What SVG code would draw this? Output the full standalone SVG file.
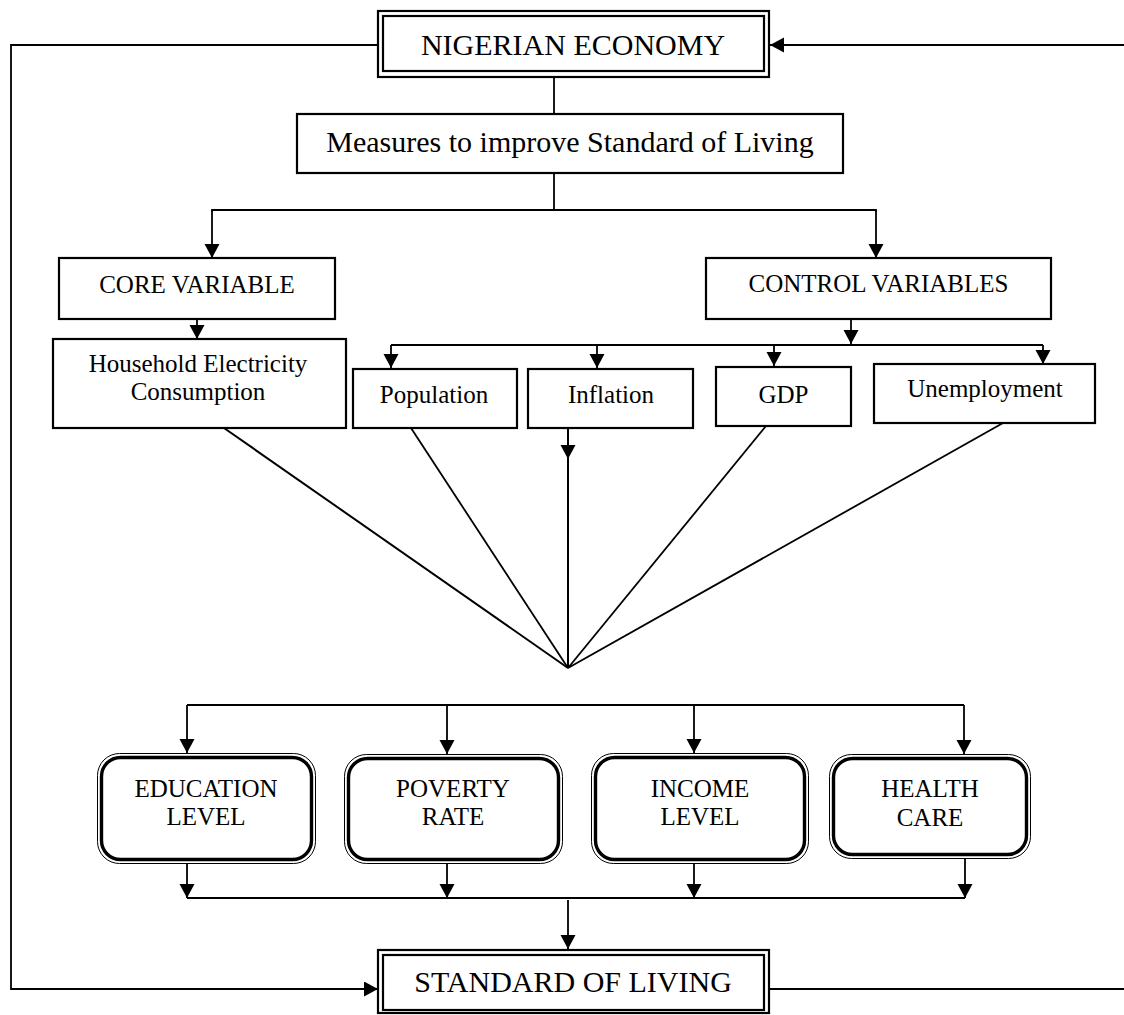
<svg xmlns="http://www.w3.org/2000/svg" width="1124" height="1015" viewBox="0 0 1124 1015">
<style>
.box{fill:#fff;stroke:#000;stroke-width:2.2}
.thin{fill:none;stroke:#000;stroke-width:1}
.thick{fill:#fff;stroke:#000;stroke-width:3.4}
.ln{fill:none;stroke:#000;stroke-width:1.8}
.fan{fill:none;stroke:#000;stroke-width:2}
.big{font-family:"Liberation Serif","Times New Roman",serif;font-size:30px;fill:#000;text-anchor:middle}
.mid{font-family:"Liberation Serif","Times New Roman",serif;font-size:25px;fill:#000;text-anchor:middle}
</style>
<defs>
<marker id="ah" markerUnits="userSpaceOnUse" markerWidth="16" markerHeight="16" refX="14" refY="7.5" orient="auto">
<path d="M0,0 L14,7.5 L0,15 z" fill="#000"/>
</marker>
</defs>
<rect width="1124" height="1015" fill="#fff"/>
<g id="connectors">
<polyline class="ln" points="377,45 11,45 11,989 378,989" marker-end="url(#ah)"/>
<line class="ln" x1="1124" y1="45" x2="770" y2="45" marker-end="url(#ah)"/>
<line class="ln" x1="770" y1="989" x2="1124" y2="989"/>
<line class="ln" x1="554" y1="77" x2="554" y2="114"/>
<line class="ln" x1="554" y1="173" x2="554" y2="210"/>
<polyline class="ln" points="212,212 212,210 876,210 876,212"/>
<line class="ln" x1="212" y1="210" x2="212" y2="258" marker-end="url(#ah)"/>
<line class="ln" x1="876" y1="210" x2="876" y2="258" marker-end="url(#ah)"/>
<line class="ln" x1="197" y1="319" x2="197" y2="339" marker-end="url(#ah)"/>
<line class="ln" x1="851" y1="319" x2="851" y2="344" marker-end="url(#ah)"/>
<line class="ln" x1="391" y1="345" x2="1043" y2="345"/>
<line class="ln" x1="391" y1="345" x2="391" y2="368" marker-end="url(#ah)"/>
<line class="ln" x1="597" y1="345" x2="597" y2="368" marker-end="url(#ah)"/>
<line class="ln" x1="774" y1="345" x2="774" y2="366" marker-end="url(#ah)"/>
<line class="ln" x1="1043" y1="345" x2="1043" y2="364" marker-end="url(#ah)"/>
<line class="fan" x1="224" y1="428" x2="568" y2="668"/>
<line class="ln" x1="411" y1="428" x2="568" y2="668"/>
<line class="fan" x1="568" y1="428" x2="568" y2="459" marker-end="url(#ah)"/>
<line class="fan" x1="568" y1="458" x2="568" y2="668"/>
<line class="ln" x1="766" y1="426" x2="568" y2="668"/>
<line class="ln" x1="1003" y1="423" x2="568" y2="668"/>
<line class="ln" x1="187" y1="705" x2="964" y2="705"/>
<line class="ln" x1="187" y1="705" x2="187" y2="753" marker-end="url(#ah)"/>
<line class="ln" x1="447" y1="705" x2="447" y2="754" marker-end="url(#ah)"/>
<line class="ln" x1="694" y1="705" x2="694" y2="753" marker-end="url(#ah)"/>
<line class="ln" x1="964" y1="705" x2="964" y2="754" marker-end="url(#ah)"/>
<line class="ln" x1="187" y1="863" x2="187" y2="898" marker-end="url(#ah)"/>
<line class="ln" x1="447" y1="863" x2="447" y2="898" marker-end="url(#ah)"/>
<line class="ln" x1="694" y1="863" x2="694" y2="898" marker-end="url(#ah)"/>
<line class="ln" x1="965" y1="858" x2="965" y2="898" marker-end="url(#ah)"/>
<line class="ln" x1="187" y1="898" x2="965" y2="898"/>
<line class="ln" x1="568" y1="900" x2="568" y2="949" marker-end="url(#ah)"/>
</g>
<g id="nigerian-economy">
<rect class="box" x="378" y="11" width="391" height="66"/>
<rect class="box" x="383" y="16" width="381" height="55"/>
<text class="big" x="573" y="55">NIGERIAN ECONOMY</text>
</g>
<g id="measures">
<rect class="box" x="297" y="114" width="546" height="59"/>
<text class="big" x="570" y="152">Measures to improve Standard of Living</text>
</g>
<g id="core-variable">
<rect class="box" x="59" y="258" width="276" height="61"/>
<text class="mid" x="197" y="293">CORE VARIABLE</text>
</g>
<g id="control-variables">
<rect class="box" x="706" y="258" width="345" height="61"/>
<text class="mid" x="878.5" y="292">CONTROL VARIABLES</text>
</g>
<g id="household-electricity">
<rect class="box" x="53" y="339" width="293" height="89"/>
<text class="mid" x="198" y="372">Household Electricity</text>
<text class="mid" x="198" y="400">Consumption</text>
</g>
<g id="population">
<rect class="box" x="353" y="369" width="164" height="59"/>
<text class="mid" x="434" y="403">Population</text>
</g>
<g id="inflation">
<rect class="box" x="528" y="369" width="165" height="59"/>
<text class="mid" x="611" y="403">Inflation</text>
</g>
<g id="gdp">
<rect class="box" x="716" y="367" width="135" height="59"/>
<text class="mid" x="783.5" y="403">GDP</text>
</g>
<g id="unemployment">
<rect class="box" x="874" y="364" width="221" height="59"/>
<text class="mid" x="985" y="397">Unemployment</text>
</g>
<g id="education-level">
<rect class="thin" x="97.5" y="753.5" width="218" height="110" rx="22"/>
<rect class="thick" x="101.5" y="757.5" width="210" height="102" rx="19"/>
<text class="mid" x="206" y="797">EDUCATION</text>
<text class="mid" x="206" y="825">LEVEL</text>
</g>
<g id="poverty-rate">
<rect class="thin" x="344.5" y="754.5" width="218" height="109" rx="22"/>
<rect class="thick" x="348.5" y="758.5" width="210" height="101" rx="19"/>
<text class="mid" x="453" y="797">POVERTY</text>
<text class="mid" x="453" y="825">RATE</text>
</g>
<g id="income-level">
<rect class="thin" x="591.5" y="753.5" width="217" height="110" rx="22"/>
<rect class="thick" x="595.5" y="757.5" width="209" height="102" rx="19"/>
<text class="mid" x="700" y="797">INCOME</text>
<text class="mid" x="700" y="825">LEVEL</text>
</g>
<g id="health-care">
<rect class="thin" x="829.5" y="754.5" width="201" height="104" rx="22"/>
<rect class="thick" x="833.5" y="758.5" width="193" height="96" rx="19"/>
<text class="mid" x="930" y="797">HEALTH</text>
<text class="mid" x="930" y="826">CARE</text>
</g>
<g id="standard-of-living">
<rect class="box" x="378" y="950" width="391" height="63"/>
<rect class="box" x="383" y="955" width="381" height="55"/>
<text class="big" x="573" y="992">STANDARD OF LIVING</text>
</g>
</svg>
